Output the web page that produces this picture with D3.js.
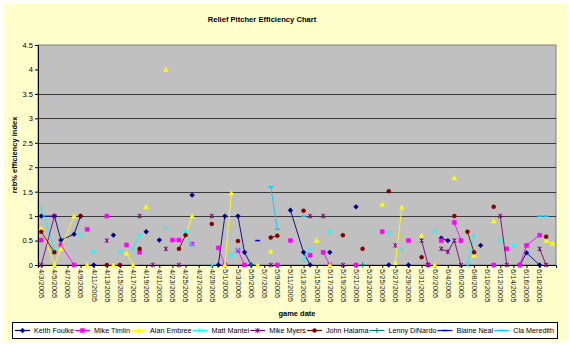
<!DOCTYPE html>
<html><head><meta charset="utf-8">
<script src="https://cdn.jsdelivr.net/npm/d3@7"></script>
<style>body{margin:0;background:#fff}text{font-family:"Liberation Sans",Arial,sans-serif}</style>
</head><body><svg id="c" width="570" height="345"></svg>
<script>
const YEAR = 2005;
const gameDates = ["4/3","4/5","4/6","4/8","4/9","4/10","4/11","4/13","4/14","4/15","4/16","4/17","4/18","4/19","4/20","4/21","4/22","4/23","4/24","4/25","4/26","4/28","4/29","4/30","5/1","5/2","5/3","5/4","5/5","5/6","5/7","5/8","5/9","5/10","5/11","5/13","5/14","5/15","5/16","5/17","5/19","5/21","5/22","5/25","5/26","5/27","5/28","5/29","5/31","6/1","6/2","6/3","6/4","6/5","6/6","6/7","6/8","6/9","6/11","6/12","6/13","6/14","6/15","6/16","6/18","6/19","6/20"];
const tickLabels = ["4/3/2005","4/5/2005","4/7/2005","4/9/2005","4/11/2005","4/13/2005","4/15/2005","4/17/2005","4/19/2005","4/21/2005","4/23/2005","4/25/2005","4/27/2005","4/29/2005","5/1/2005","5/3/2005","5/5/2005","5/7/2005","5/9/2005","5/11/2005","5/13/2005","5/15/2005","5/17/2005","5/19/2005","5/21/2005","5/23/2005","5/25/2005","5/27/2005","5/29/2005","5/31/2005","6/2/2005","6/4/2005","6/6/2005","6/8/2005","6/10/2005","6/12/2005","6/14/2005","6/16/2005","6/18/2005"];
const yTicks = [0,0.5,1,1.5,2,2.5,3,3.5,4,4.5];
const gridValues = [1,1.5,2,2.5,3,3.5];

const seriesNames = ["Keith Foulke","Mike Timlin","Alan Embree","Matt Mantei","Mike Myers","John Halama","Lenny DiNardo","Blaine Neal","Cla Meredith"];
const seriesColors = ["#000080","#FF00FF","#FFFF00","#00FFFF","#800080","#800000","#008080","#0000FF","#00CCFF"];
const seriesMarkers = ["diamond","square","triangle","x","star","circle","plus","dash","dash"];

const foulke = [["4/3",1.0],["4/5",1.0],["4/6",0.51],["4/8",0.63],["4/9",1.0],["4/11",0],["4/14",0.61],["4/19",0.68],["4/21",0.51],["4/26",1.43],["4/30",0],["5/1",1.0],["5/3",1.0],["5/4",0.26],["5/5",0],["5/11",1.12],["5/13",0.26],["5/14",0],["5/17",0.26],["5/21",1.19],["5/26",0],["5/29",0],["6/3",0.55],["6/4",0.5],["6/9",0.4],["6/15",0],["6/16",0.25],["6/18",0]];
const timlin = [["4/3",0.51],["4/6",0.41],["4/8",0],["4/10",0.73],["4/13",1.0],["4/16",0.41],["4/18",0.26],["4/23",0.51],["4/24",0.51],["4/26",0.43],["4/30",0.35],["5/1",0],["5/3",0.3],["5/4",0],["5/9",0],["5/11",0.5],["5/14",0.2],["5/16",0.26],["5/17",0],["5/21",0],["5/25",0.68],["5/29",0.5],["6/1",0],["6/3",0.5],["6/5",0.87],["6/6",0.5],["6/11",0],["6/13",0.33],["6/15",0],["6/16",0.4],["6/18",0.61]];
const embree = [["4/3",0.75],["4/5",0],["4/6",0.33],["4/8",1.0],["4/10",0],["4/14",0],["4/16",0.24],["4/17",0],["4/19",1.19],["4/22",4.0],["4/25",0.6],["4/26",1.0],["5/1",0],["5/2",1.47],["5/6",0],["5/8",0.28],["5/15",0.5],["5/17",0],["5/25",1.24],["5/27",0.05],["5/28",1.18],["5/31",0.6],["6/2",0],["6/5",1.78],["6/8",0.2],["6/11",0.9],["6/19",0.5],["6/20",0.44]];
const mantei = [["4/3",1.16],["4/5",0.33],["4/9",0.62],["4/11",0.27],["4/15",0.27],["4/17",0.33],["4/18",0.61],["4/22",0.75],["4/25",0.68],["4/26",0.4],["4/29",0],["5/2",0.2],["5/3",0.33],["5/13",0.1],["5/14",0.33],["5/17",0.68],["5/26",0.66],["5/28",0.33],["6/2",0.7],["6/7",0],["6/8",0.61],["6/12",0.5],["6/14",0.4]];
const myers = [["4/3",0],["4/5",1.0],["4/13",0.5],["4/18",1.0],["4/20",0],["4/22",0.33],["4/24",0],["4/29",1.0],["5/8",0],["5/14",1.0],["5/16",1.0],["5/19",0],["5/27",0.4],["5/31",0.5],["6/1",0],["6/3",0.33],["6/4",0.27],["6/5",0.5],["6/6",0],["6/12",1.0],["6/13",0],["6/18",0.33],["6/19",0]];
const halama = [["4/3",0.68],["4/5",0.26],["4/9",1.0],["4/13",0],["4/15",0],["4/18",0.33],["4/24",0.33],["4/25",0.61],["4/29",0.84],["5/3",0.49],["5/8",0.56],["5/9",0.6],["5/13",1.11],["5/19",0.61],["5/22",0.33],["5/26",1.51],["5/31",0.16],["6/5",1.0],["6/7",0.68],["6/8",0.26],["6/11",1.19],["6/19",0.58]];
const dinardo = [["5/5",0],["5/22",0]];
const neal = [["5/6",0.5]];
const meredith = [["5/8",1.6],["5/9",0.73],["5/13",1.0],["6/18",1.0],["6/19",1.0]];

const seriesData = [foulke,timlin,embree,mantei,myers,halama,dinardo,neal,meredith];

const parse = s => { const [m,d] = s.split("/").map(Number); return new Date(YEAR, m-1, d); };
const gameIndex = new Map(gameDates.map((g,i)=>[g,i]));

const svg = d3.select("#c");
const plot = {l:38, r:556, t:45, b:265};

svg.append("rect").attr("x",4).attr("y",3).attr("width",564).attr("height",339).attr("fill","#FFFFCC");

const x = d3.scaleTime()
  .domain([new Date(YEAR,3,2,12), new Date(YEAR,5,20,12)])
  .range([plot.l, plot.r]);
const y = d3.scaleLinear().domain([0,4.5]).range([plot.b, plot.t]);

svg.append("rect").attr("x",plot.l).attr("y",plot.t).attr("width",plot.r-plot.l).attr("height",plot.b-plot.t)
  .attr("fill","#C0C0C0").attr("stroke","#808080").attr("stroke-width",1);

svg.append("g").selectAll("line").data(gridValues).join("line")
  .attr("x1",plot.l).attr("x2",plot.r)
  .attr("y1",d=>Math.round(y(d))+0.5).attr("y2",d=>Math.round(y(d))+0.5)
  .attr("stroke","#3a3a3a").attr("stroke-width",1);

const yAxis = svg.append("g").attr("transform",`translate(${plot.l},0)`)
  .call(d3.axisLeft(y).tickValues(yTicks).tickSize(3).tickPadding(2).tickFormat(d=>String(d)));
yAxis.select(".domain").attr("stroke","#000");
yAxis.selectAll("line").attr("stroke","#000");
yAxis.selectAll("text").attr("font-size","7.5px").attr("fill","#000")
  .style("font-family","'Liberation Sans',Arial,sans-serif");

const tickDates = tickLabels.map(s=>{const [m,d,yy]=s.split("/").map(Number);return new Date(yy,m-1,d);});
const xAxis = svg.append("g").attr("transform",`translate(0,${plot.b})`)
  .call(d3.axisBottom(x).tickValues(tickDates).tickSize(3).tickFormat((d,i)=>tickLabels[i]));
xAxis.select(".domain").attr("stroke","#000");
xAxis.selectAll("line").attr("stroke","#000");
xAxis.selectAll("text")
  .attr("font-size","7.5px").attr("fill","#222")
  .style("font-family","'Liberation Sans',Arial,sans-serif")
  .attr("text-anchor","start")
  .attr("transform","rotate(90)")
  .attr("x",4).attr("y",0).attr("dy","0.35em");

function markerPath(type){
  switch(type){
    case "diamond": return "M0,-2.4L2.4,0L0,2.4L-2.4,0Z";
    case "square": return "M-2,-2H2V2H-2Z";
    case "triangle": return "M0,-2.4L2.4,2H-2.4Z";
    case "x": return "M-2,-2L2,2M-2,2L2,-2";
    case "star": return "M-2,-2L2,2M-2,2L2,-2M0,-2.5L0,2.5";
    case "plus": return "M-2.5,0H2.5M0,-2.5V2.5";
    case "dash": return "M-2.5,0H2.5";
  }
}
function drawMarker(g, type, color){
  if(type==="circle"){
    g.append("circle").attr("r",2).attr("fill",color).attr("stroke",color).attr("stroke-width",0.5);
  } else if(["diamond","square","triangle"].includes(type)){
    g.append("path").attr("d",markerPath(type)).attr("fill",color).attr("stroke",color).attr("stroke-width",0.5);
  } else {
    g.append("path").attr("d",markerPath(type)).attr("fill","none").attr("stroke",color).attr("stroke-width",type==="dash"?1.5:1);
  }
}

const seriesG = svg.append("g");
seriesData.forEach((data,si)=>{
  const color = seriesColors[si];
  const pts = data.map(([d,v])=>({d, v, gi: gameIndex.get(d)})).sort((a,b)=>a.gi-b.gi);
  const segs = [];
  for(let i=1;i<pts.length;i++){
    if(pts[i].gi - pts[i-1].gi === 1) segs.push([pts[i-1],pts[i]]);
  }
  seriesG.append("g").selectAll("line").data(segs).join("line")
    .attr("x1",s=>x(parse(s[0].d))).attr("y1",s=>y(s[0].v))
    .attr("x2",s=>x(parse(s[1].d))).attr("y2",s=>y(s[1].v))
    .attr("stroke",color).attr("stroke-width",0.9);
  pts.forEach(p=>{
    const g = seriesG.append("g").attr("transform",`translate(${x(parse(p.d))},${y(p.v)})`);
    drawMarker(g, seriesMarkers[si], color);
  });
});

svg.append("text").attr("x",262).attr("y",22).attr("text-anchor","middle")
  .attr("font-size","7.6px").attr("font-weight","bold").text("Relief Pitcher Efficiency Chart");
svg.append("text").attr("transform","translate(14,155) rotate(-90)").attr("text-anchor","middle")
  .attr("dy","0.35em").attr("font-size","7.5px").attr("font-weight","bold").text("reb% efficiency index");
svg.append("text").attr("x",(plot.l+plot.r)/2).attr("y",316).attr("text-anchor","middle")
  .attr("font-size","7.5px").attr("font-weight","bold").text("game date");

const lg = svg.append("g");
const box = {x:12, y:322, w:545, h:16};
lg.append("rect").attr("x",box.x+0.5).attr("y",box.y+0.5).attr("width",box.w).attr("height",box.h)
  .attr("fill","#FFFFFF").attr("stroke","#000").attr("stroke-width",1);
const items = seriesNames.map((n,i)=>{
  const g = lg.append("g");
  const t = g.append("text").attr("font-size","7.2px").attr("dy","0.35em").attr("x",19).text(n);
  return {g, w: 19 + t.node().getComputedTextLength(), i};
});
const total = d3.sum(items,d=>d.w);
const gap = (box.w - 6 - total)/(items.length-1);
let cx = box.x + 3;
const cy = box.y + box.h/2 + 0.5;
items.forEach(it=>{
  it.g.attr("transform",`translate(${cx},${cy})`);
  it.g.insert("line","text").attr("x1",0).attr("x2",15).attr("y1",0).attr("y2",0)
    .attr("stroke",seriesColors[it.i]).attr("stroke-width",1.2);
  const mg = it.g.append("g").attr("transform","translate(7.5,0)");
  drawMarker(mg, seriesMarkers[it.i], seriesColors[it.i]);
  cx += it.w + gap;
});
</script></body></html>
